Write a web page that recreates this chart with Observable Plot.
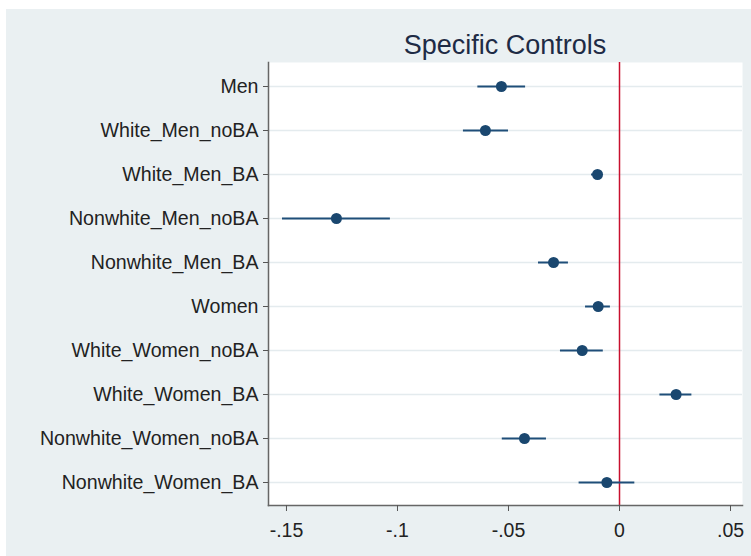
<!DOCTYPE html>
<html>
<head>
<meta charset="utf-8">
<script src="https://cdn.jsdelivr.net/npm/d3@7"></script>
<script src="https://cdn.jsdelivr.net/npm/@observablehq/plot@0.6"></script>
<style>
  html, body { margin: 0; padding: 0; background: #ffffff; overflow: hidden; }
  #wrap { position: absolute; left: 6px; top: 9px; width: 745px; height: 547px; background: #eaf0f2; font-family: "Liberation Sans", Arial, sans-serif; }
  #title { margin-left: 262px; width: 474px; text-align: center; padding-top: 23px; height: 27px; line-height: 27px; font-size: 27px; color: #1e2b45; white-space: nowrap; }
  #chart svg { display: block; }
</style>
</head>
<body>
<div id="wrap">
  <div id="title">Specific Controls</div>
  <div id="chart"></div>
</div>
<script>
const categories = ["Men", "White_Men_noBA", "White_Men_BA", "Nonwhite_Men_noBA", "Nonwhite_Men_BA",
  "Women", "White_Women_noBA", "White_Women_BA", "Nonwhite_Women_noBA", "Nonwhite_Women_BA"];
const estimates = [-0.0532, -0.0604, -0.0099, -0.1275, -0.0297, -0.0096, -0.0168, 0.0255, -0.0428, -0.0057];
const lower     = [-0.0638, -0.0703, -0.0126, -0.1518, -0.0365, -0.0153, -0.0266, 0.0182, -0.0528, -0.0182];
const upper     = [-0.0423, -0.0500, -0.0077, -0.1032, -0.0230, -0.0041, -0.0073, 0.0326, -0.0329, 0.0069];
const xTicks = [-0.15, -0.1, -0.05, 0, 0.05];
const xDomain = [-0.1581, 0.0554];
const refLine = [0];

const rows = categories.map((name, i) => ({name, est: estimates[i], lo: lower[i], hi: upper[i]}));
const fmt = d => d === 0 ? "0" : String(d).replace("0.", ".");

const chart = Plot.plot({
  width: 745,
  height: 497,
  marginTop: 3,
  marginBottom: 51,
  marginLeft: 262,
  marginRight: 9,
  style: { background: "transparent", fontFamily: "'Liberation Sans', Arial, sans-serif", overflow: "visible" },
  x: { domain: xDomain, ticks: xTicks, tickFormat: fmt },
  y: { type: "point", domain: categories, padding: 0.5 },
  marks: [
    Plot.frame({ fill: "#ffffff", stroke: "none" }),
    Plot.gridY(categories, { stroke: "#e4ebee", strokeOpacity: 1, strokeWidth: 1.5 }),
    Plot.ruleX(refLine, { stroke: "#c8102e", strokeWidth: 1.5 }),
    Plot.ruleY(rows, { y: "name", x1: "lo", x2: "hi", stroke: "#1f4e79", strokeWidth: 2 }),
    Plot.dot(rows, { x: "est", y: "name", r: 5.5, fill: "#1a476f", stroke: "none" }),
    Plot.frame({ anchor: "left", stroke: "#666666", strokeWidth: 1.5 }),
    Plot.frame({ anchor: "bottom", stroke: "#666666", strokeWidth: 1.5 }),
    Plot.axisY({ tickSize: 5, tickPadding: 5, fontSize: 19.6, label: null, stroke: "#555555", color: "#222222" }),
    Plot.axisX({ ticks: xTicks, tickFormat: fmt, tickSize: 6, tickPadding: 12, fontSize: 19.5, label: null, stroke: "#555555", color: "#222222" })
  ]
});
document.getElementById("chart").appendChild(chart);
</script>
</body>
</html>
